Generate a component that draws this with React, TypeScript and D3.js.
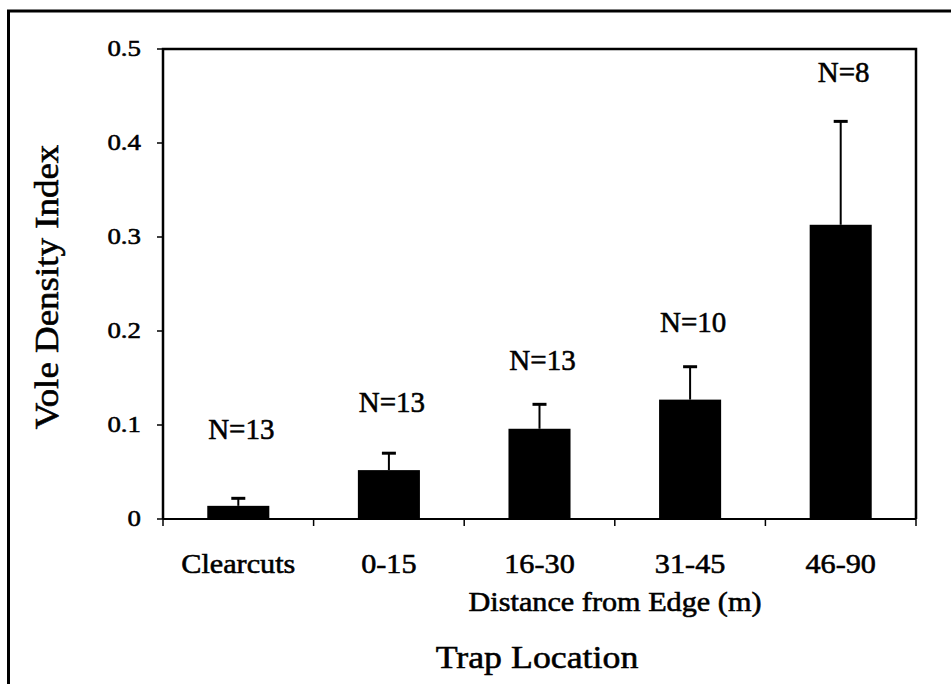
import React from 'react';
import * as d3 from 'd3';

// trap locations (distance from clearcut edge)
const categories = ['Clearcuts', '0-15', '16-30', '31-45', '46-90'];
// mean vole density index per location
const means = [0.014, 0.052, 0.096, 0.127, 0.313];
// upper error (SE)
const errors = [0.008, 0.018, 0.026, 0.035, 0.110];
// sample sizes
const sampleSizes = [13, 13, 13, 10, 8];
// where the N= annotations sit, in index units
const labelLevels = [0.085, 0.114, 0.159, 0.199, 0.465];
const yTicks = [0, 0.1, 0.2, 0.3, 0.4, 0.5];

const FONT = '"Liberation Serif", "Times New Roman", serif';
const STRETCH = 1.12;

const plot = {left: 163, right: 916, top: 49, bottom: 519};

// scanned text looks heavier than a plain serif
const ink = {fill: '#000', stroke: '#000', strokeWidth: 0.55, fontFamily: FONT};

const App = () => {
  const x = d3.scaleBand()
    .domain(categories)
    .range([plot.left, plot.right])
    .paddingInner(0.588)
    .paddingOuter(0.294);

  const y = d3.scaleLinear().domain([0, 0.5]).range([plot.bottom, plot.top]);

  const step = x.step();
  const boundaries = d3.range(categories.length + 1).map(i => plot.left + i * step);

  const stretched = (tx, ty, sx = STRETCH) => `translate(${tx},${ty}) scale(${sx},1)`;

  return (
    <svg width={951} height={684} style={{position: 'absolute', left: 0, top: 0, background: '#fff'}}>
      {/* outer frame */}
      <path d="M8.5,700V11H960" fill="none" stroke="#000" strokeWidth={3} />

      {/* bars */}
      {categories.map((c, i) => (
        <rect key={c} x={x(c)} y={y(means[i])} width={x.bandwidth()}
          height={y(0) - y(means[i])} fill="#000" />
      ))}

      {/* error bars, upper only */}
      {categories.map((c, i) => {
        const cx = x(c) + x.bandwidth() / 2;
        return (
          <g key={c + 'err'} stroke="#000">
            <line x1={cx} x2={cx} y1={y(means[i])} y2={y(means[i] + errors[i])} strokeWidth={2} />
            <line x1={cx - 7} x2={cx + 7} y1={y(means[i] + errors[i])} y2={y(means[i] + errors[i])} strokeWidth={3} />
          </g>
        );
      })}

      {/* plot box */}
      <path d={`M${plot.left},${plot.bottom}V${plot.top}H${plot.right}V${plot.bottom}`}
        fill="none" stroke="#000" strokeWidth={2.5} />
      <line x1={plot.left} x2={plot.right} y1={plot.bottom} y2={plot.bottom} stroke="#000" strokeWidth={2} />

      {/* y axis ticks */}
      {yTicks.map(t => (
        <g key={t}>
          <line x1={plot.left - 6} x2={plot.left} y1={y(t)} y2={y(t)} stroke="#000" strokeWidth={1.5} />
          <text transform={stretched(141, y(t) + 7)} textAnchor="end" fontSize={24} {...ink}>
            {d3.format('')(t)}
          </text>
        </g>
      ))}

      {/* x axis ticks at category boundaries */}
      {boundaries.map((b, i) => (
        <line key={i} x1={b} x2={b} y1={plot.bottom} y2={plot.bottom + 7} stroke="#000" strokeWidth={1.5} />
      ))}

      {/* category labels */}
      {categories.map(c => (
        <text key={c + 'lab'} transform={stretched(x(c) + x.bandwidth() / 2, 573)} textAnchor="middle"
          fontSize={27} {...ink}>{c}</text>
      ))}

      {/* sample size labels */}
      {categories.map((c, i) => (
        <text key={c + 'n'} x={x(c) + x.bandwidth() / 2 + 3} y={y(labelLevels[i])} textAnchor="middle"
          fontSize={29} {...ink}>{`N=${sampleSizes[i]}`}</text>
      ))}

      <text transform={stretched(615, 611)} textAnchor="middle" fontSize={27} {...ink}>
        Distance from Edge (m)
      </text>
      <text transform={stretched(537, 668)} textAnchor="middle" fontSize={32} {...ink}>
        Trap Location
      </text>
      <text transform={`translate(58,287) rotate(-90) scale(${STRETCH},1)`} textAnchor="middle"
        fontSize={33} {...ink}>
        Vole Density Index
      </text>
    </svg>
  );
};

export default App;
